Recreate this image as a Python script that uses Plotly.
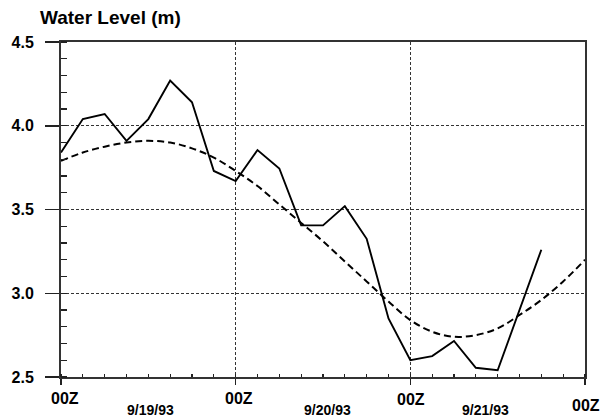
import plotly.graph_objects as go

# Observed water level (solid), hours since 00Z 9/19/93
obs_hours = [0, 3, 6, 9, 12, 15, 18, 21, 24, 27, 30, 33, 36, 39, 42, 45, 48, 51, 54, 57, 60, 66]
obs_level = [3.84, 4.04, 4.07, 3.91, 4.04, 4.27, 4.14, 3.73, 3.67, 3.855, 3.745, 3.405,
             3.405, 3.52, 3.325, 2.85, 2.60, 2.625, 2.715, 2.555, 2.54, 3.26]

# Fitted / predicted curve (dashed)
fit_hours = [0, 3, 6, 9, 12, 15, 18, 21, 24, 27, 30, 33, 36, 39, 42, 45, 48, 51, 54, 57, 60, 63, 66, 69, 72]
fit_level = [3.79, 3.84, 3.875, 3.90, 3.91, 3.90, 3.865, 3.81, 3.73, 3.64, 3.53, 3.42, 3.31,
             3.19, 3.07, 2.95, 2.84, 2.77, 2.74, 2.75, 2.79, 2.87, 2.96, 3.07, 3.20]

y_ticks = [2.5, 3.0, 3.5, 4.0, 4.5]
y_tick_text = ["2.5", "3.0", "3.5", "4.0", "4.5"]
hour_ticks = [0, 24, 48, 72]
hour_labels = ["00Z", "00Z", "00Z", "00Z"]
date_pos = [12, 36, 60]
date_labels = ["9/19/93", "9/20/93", "9/21/93"]

FONT = "Liberation Sans, Arial, Helvetica, sans-serif"

fig = go.Figure()
fig.add_trace(go.Scatter(x=fit_hours, y=fit_level, mode="lines",
                         line=dict(color="black", width=2, dash="7px,4px"),
                         line_shape="spline", hoverinfo="skip"))
fig.add_trace(go.Scatter(x=obs_hours, y=obs_level, mode="lines",
                         line=dict(color="black", width=1.9), hoverinfo="skip"))

fig.update_layout(
    width=601, height=417,
    margin=dict(l=57, r=16, t=42, b=40),
    paper_bgcolor="white", plot_bgcolor="white",
    showlegend=False,
    font=dict(family=FONT, color="black"),
)

fig.update_xaxes(
    range=[0, 72], tickvals=hour_ticks, showticklabels=False,
    ticks="outside", ticklen=6, tickwidth=1.5, tickcolor="#222",
    showgrid=True, gridcolor="#333", gridwidth=1, griddash="3px,2px",
    showline=True, linecolor="#333", linewidth=2, mirror=True,
    zeroline=False,
    minor=dict(dtick=3, ticks="inside", ticklen=3, tickwidth=1.2, tickcolor="#222", showgrid=False),
)
fig.update_yaxes(
    range=[2.5, 4.5], tickvals=y_ticks, ticktext=y_tick_text,
    ticks="outside", ticklen=14, tickwidth=1.5, tickcolor="#222",
    tickfont=dict(family=FONT, size=16, color="black", weight="bold"),
    ticklabelstandoff=8,
    showgrid=True, gridcolor="#333", gridwidth=1, griddash="3px,2px",
    showline=True, linecolor="#333", linewidth=2, mirror=True,
    zeroline=False,
    minor=dict(dtick=0.1, ticks="inside", ticklen=6, tickwidth=1.2, tickcolor="#222", showgrid=False),
)

hour_xshift = [4, 3, 1, 1]
hour_yshift = [-21, -21, -22, -28]
for h, lab, xs, ys in zip(hour_ticks, hour_labels, hour_xshift, hour_yshift):
    fig.add_annotation(x=h, y=0, xref="x", yref="paper", text=lab, showarrow=False,
                       xanchor="center", yanchor="middle", xshift=xs, yshift=ys,
                       font=dict(family=FONT, size=16, color="black", weight="bold"))

date_xshift = [2, 4, -12]
for d, lab, xs in zip(date_pos, date_labels, date_xshift):
    fig.add_annotation(x=d, y=0, xref="x", yref="paper", text=lab, showarrow=False,
                       xanchor="center", yanchor="middle", xshift=xs, yshift=-33,
                       borderpad=0,
                       font=dict(family=FONT, size=14, color="black", weight="bold"))

fig.add_annotation(x=0, y=1, xref="paper", yref="paper", text="Water Level (m)",
                   showarrow=False, xanchor="left", yanchor="middle", xshift=-23, yshift=25,
                   font=dict(family=FONT, size=19, color="black", weight="bold"))

fig.write_html("out.html",
               config={"displayModeBar": False, "staticPlot": True},
               post_script="document.body.style.margin='0';document.body.style.overflow='hidden';")
